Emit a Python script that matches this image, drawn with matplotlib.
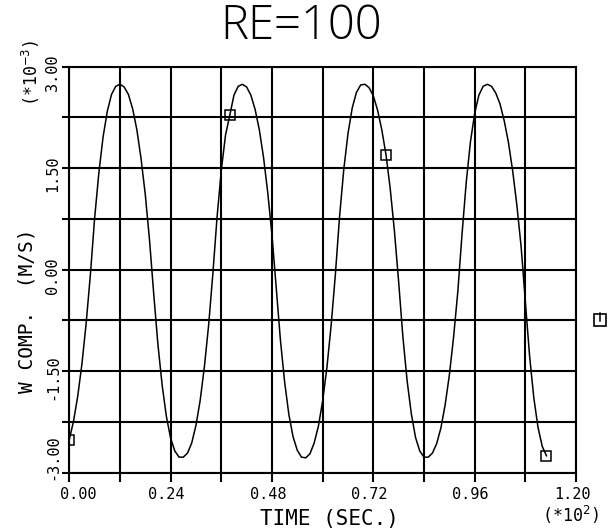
import matplotlib
matplotlib.use('Agg')
import matplotlib.pyplot as plt
from matplotlib.transforms import ScaledTranslation

# W component (x1e-3 m/s), time in units of 1e2 s
time = [0.00, 0.01, 0.02, 0.03, 0.04, 0.05, 0.06, 0.07, 0.08, 0.09,
        0.10, 0.11, 0.12, 0.13, 0.14, 0.15, 0.16, 0.17, 0.18, 0.19,
        0.20, 0.21, 0.22, 0.23, 0.24, 0.25, 0.26, 0.27, 0.28, 0.29,
        0.30, 0.31, 0.32, 0.33, 0.34, 0.35, 0.36, 0.37, 0.38, 0.39,
        0.40, 0.41, 0.42, 0.43, 0.44, 0.45, 0.46, 0.47, 0.48, 0.49,
        0.50, 0.51, 0.52, 0.53, 0.54, 0.55, 0.56, 0.57, 0.58, 0.59,
        0.60, 0.61, 0.62, 0.63, 0.64, 0.65, 0.66, 0.67, 0.68, 0.69,
        0.70, 0.71, 0.72, 0.73, 0.74, 0.75, 0.76, 0.77, 0.78, 0.79,
        0.80, 0.81, 0.82, 0.83, 0.84, 0.85, 0.86, 0.87, 0.88, 0.89,
        0.90, 0.91, 0.92, 0.93, 0.94, 0.95, 0.96, 0.97, 0.98, 0.99,
        1.00, 1.01, 1.02, 1.03, 1.04, 1.05, 1.06, 1.07, 1.08, 1.09,
        1.10, 1.11, 1.12, 1.13]
w_comp = [-2.51, -2.24, -1.87, -1.39, -0.79, -0.07, 0.76, 1.43, 1.96, 2.34,
          2.59, 2.71, 2.74, 2.70, 2.59, 2.38, 2.07, 1.64, 1.11, 0.44,
          -0.36, -1.11, -1.71, -2.17, -2.49, -2.68, -2.77, -2.77, -2.71, -2.56,
          -2.30, -1.93, -1.43, -0.82, -0.06, 0.78, 1.47, 1.99, 2.28, 2.58,
          2.71, 2.74, 2.70, 2.58, 2.37, 2.07, 1.66, 1.14, 0.51, -0.26,
          -1.04, -1.66, -2.14, -2.47, -2.67, -2.77, -2.78, -2.72, -2.56, -2.31,
          -1.94, -1.45, -0.83, -0.08, 0.78, 1.48, 2.01, 2.39, 2.62, 2.73,
          2.74, 2.69, 2.57, 2.36, 2.07, 1.70, 1.20, 0.57, -0.18, -0.99,
          -1.64, -2.13, -2.48, -2.68, -2.77, -2.77, -2.71, -2.57, -2.34, -2.00,
          -1.56, -1.00, -0.33, 0.52, 1.29, 1.89, 2.31, 2.58, 2.71, 2.74,
          2.71, 2.61, 2.45, 2.20, 1.88, 1.46, 0.95, 0.34, -0.47, -1.27,
          -1.89, -2.33, -2.61, -2.75]
marker_idx = [0, 38, 75, 113]

x_ticks = [0.00, 0.12, 0.24, 0.36, 0.48, 0.60, 0.72, 0.84, 0.96, 1.08, 1.20]
x_labels = ['0.00', '', '0.24', '', '0.48', '', '0.72', '', '0.96', '', '1.20']
y_ticks = [-3.00, -2.25, -1.50, -0.75, 0.00, 0.75, 1.50, 2.25, 3.00]
y_labels = ['-3.00', '', '-1.50', '', '0.00', '', '1.50', '', '3.00']

mono = 'DejaVu Sans Mono'

fig = plt.figure(figsize=(6.12, 5.29), dpi=100)
ax = fig.add_axes([0.1132, 0.1064, 0.8280, 0.7675])

ax.plot(time, w_comp, color='black', lw=1.1, marker='s', markevery=marker_idx,
        ms=6.5, mfc='none', mec='black', mew=1.1)

ax.set_xlim(0, 1.2)
ax.set_ylim(-3, 3)
ax.set_xticks(x_ticks)
ax.set_xticklabels(x_labels, family=mono, fontsize=11)
ax.set_yticks(y_ticks)
ax.set_yticklabels(y_labels, family=mono, fontsize=11, rotation=90, va='center')

ax.grid(True, color='black', lw=1.5)
ax.set_axisbelow(True)
ax.tick_params(axis='x', direction='out', length=6.5, width=1.5, pad=4)
ax.tick_params(axis='y', direction='out', length=5, width=1.5, pad=1.5)
for sp in ax.spines.values():
    sp.set_linewidth(1.5)

# nudge tick labels like the plotter did
for lab in ax.get_xticklabels():
    dx = 0.09 if lab.get_text() == '0.00' else -0.04
    lab.set_transform(lab.get_transform() + ScaledTranslation(dx, 0, fig.dpi_scale_trans))
for lab in ax.get_yticklabels():
    dy = 0.16 if lab.get_text() == '-3.00' else -0.06
    lab.set_transform(lab.get_transform() + ScaledTranslation(0, dy, fig.dpi_scale_trans))

# symbol key outside the frame
ax.plot([1.047], [0.376], 's', ms=9, mfc='none', mec='black', mew=1.2,
        transform=ax.transAxes, clip_on=False)
ax.plot([1.047, 1.047], [0.394, 0.374], color='black', lw=1.1,
        transform=ax.transAxes, clip_on=False)

fig.text(0.492, 0.950, 'RE=100', family=['Open Sans', 'DejaVu Sans'], fontsize=34,
         fontweight='light', ha='center', va='center')
fig.text(0.044, 0.412, 'W COMP.  (M/S)', family=mono, fontsize=14,
         rotation=90, ha='center', va='center')
fig.text(0.050, 0.862, r'(*10$^{-3}$)', family=mono, fontsize=12,
         rotation=90, ha='center', va='center')
fig.text(0.539, 0.019, 'TIME (SEC.)', family=mono, fontsize=15,
         ha='center', va='center')
fig.text(0.932, 0.027, r'(*10$^{2}$)', family=mono, fontsize=12,
         ha='center', va='center')

fig.savefig('out.png', dpi=100)
